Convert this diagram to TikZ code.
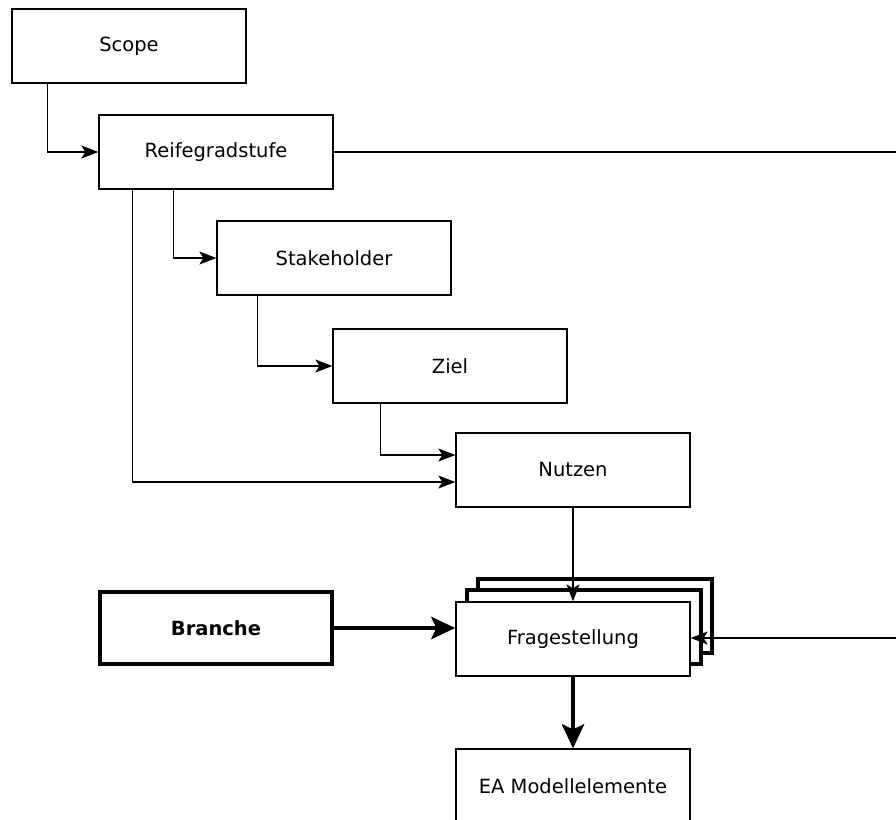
\documentclass[tikz,border=0pt]{standalone}
\usepackage{fontspec}
\setmainfont{DejaVu Sans}
\usetikzlibrary{arrows.meta}
\begin{document}
\begin{tikzpicture}[x=1pt,y=-1pt,
  box/.style={draw,fill=white,line width=1.3pt,minimum width=234pt,minimum height=74pt,inner sep=0pt,font=\fontsize{19.5}{22}\selectfont},
  heavybox/.style={box,line width=4.5pt,minimum width=232pt,minimum height=72pt,font=\fontsize{19.5}{22}\selectfont\bfseries},
  stackbox/.style={draw,fill=white,line width=4pt,minimum width=234pt,minimum height=74pt,inner sep=0pt},
  link/.style={line width=1.3pt,-{Stealth[length=17pt,width=13pt,inset=4pt]}},
  heavylink/.style={line width=4.7pt,-{Stealth[length=24pt,width=22pt,inset=5pt]}},
  wire/.style={line width=1.3pt}]
\useasboundingbox (0,0) rectangle (896,819);

% stacked copies behind the question box
\node[stackbox] (stackc) at (595,616) {};
\node[stackbox] (stackb) at (584,627) {};

\node[box] (scope) at (129,46) {Scope};
\node[box] (reife) at (216,152) {Reifegradstufe};
\node[box] (stake) at (334,258) {Stakeholder};
\node[box] (ziel) at (450,366) {Ziel};
\node[box] (nutzen) at (573,470) {Nutzen};
\node[box] (frage) at (573,639) {Fragestellung};
\node[heavybox] (branche) at (216,628) {Branche};
\node[box] (ea) at (573,786) {EA Modellelemente};

\coordinate (outA) at (897,152);
\coordinate (outB) at (897,638);

\draw[link] (scope.south west) ++(36,0) |- (reife.west);
\draw[link] (reife.south west) ++(75,0) |- (stake.west);
\draw[link] (stake.south west) ++(41,0) |- (ziel.west);
\draw[link] (ziel.south west) ++(48,0) |- ([yshift=15pt]nutzen.west);
\draw[link] (reife.south west) ++(34,0) |- ([yshift=-12pt]nutzen.west);
\draw[link] (nutzen.south) -- (frage.north);
\draw[wire] (reife.east) -- (outA);
\draw[link] (outB) -- (frage.east |- outB);
\draw[heavylink] (branche.east) -- (frage.west |- branche.east);
\draw[heavylink] (frage.south) -- (ea.north);
\end{tikzpicture}
\end{document}
